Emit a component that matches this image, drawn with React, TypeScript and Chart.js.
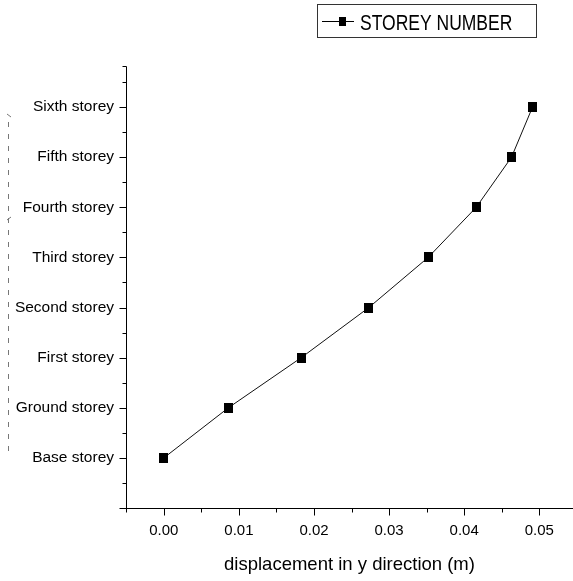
import React, { useEffect, useRef } from "react";
import { Chart, registerables } from "chart.js";

Chart.register(...registerables);

// ---- data ----
const storeyLabels = [
  "Base storey",
  "Ground storey",
  "First storey",
  "Second storey",
  "Third storey",
  "Fourth storey",
  "Fifth storey",
  "Sixth storey",
];
const displacement = [0.0, 0.0086, 0.0183, 0.0273, 0.0352, 0.0416, 0.0463, 0.0491];
const xMajorTicks = [0, 0.01, 0.02, 0.03, 0.04, 0.05];
const seriesName = "STOREY NUMBER";
const xAxisTitle = "displacement in y direction (m)";

const FONT = "'Liberation Sans', Arial, Helvetica, sans-serif";

const isMult = (v: number, step: number) => Math.abs(v / step - Math.round(v / step)) < 1e-6;

const axesPlugin = {
  id: "axesPlugin",
  afterDraw(chart: any) {
    const ctx: CanvasRenderingContext2D = chart.ctx;
    const xs = chart.scales.x;
    const ys = chart.scales.y;
    const { left, right, top, bottom } = chart.chartArea;
    const L = Math.round(left) + 0.5;
    const B = Math.round(bottom) + 0.5;
    const T = Math.round(top) + 0.5;
    ctx.save();
    ctx.strokeStyle = "#000";
    ctx.lineWidth = 1;
    ctx.beginPath();
    // axis lines
    ctx.moveTo(L, T);
    ctx.lineTo(L, B + 4);
    ctx.moveTo(L, B);
    ctx.lineTo(right, B);
    // top end tick
    ctx.moveTo(L, T);
    ctx.lineTo(L - 4, T);
    // x ticks
    xs.ticks.forEach((t: any) => {
      const v = t.value;
      if (!isMult(v, 0.005)) return;
      const px = Math.round(xs.getPixelForValue(v)) + 0.5;
      ctx.moveTo(px, B);
      ctx.lineTo(px, B + (isMult(v, 0.01) ? 7 : 4));
    });
    // y ticks
    ys.ticks.forEach((t: any) => {
      const v = t.value;
      if (!isMult(v, 0.5)) return;
      const py = Math.round(ys.getPixelForValue(v)) + 0.5;
      ctx.moveTo(L, py);
      ctx.lineTo(L - (isMult(v, 1) ? 7 : 4), py);
    });
    ctx.stroke();

    // faint cropped left artefact
    ctx.strokeStyle = "#777";
    ctx.setLineDash([5, 7]);
    ctx.beginPath();
    ctx.moveTo(8.5, 122);
    ctx.lineTo(8.5, 456);
    ctx.stroke();
    ctx.setLineDash([]);
    ctx.beginPath();
    ctx.moveTo(7, 114);
    ctx.lineTo(11, 117);
    ctx.moveTo(7, 220);
    ctx.lineTo(11, 217);
    ctx.stroke();

    // legend
    ctx.strokeStyle = "#333";
    ctx.strokeRect(317.5, 4.5, 219, 33);
    ctx.strokeStyle = "#000";
    ctx.beginPath();
    ctx.moveTo(322, 21.5);
    ctx.lineTo(354, 21.5);
    ctx.stroke();
    ctx.fillStyle = "#000";
    ctx.fillRect(339, 17, 7, 9);
    ctx.font = `17.5px ${FONT}`;
    ctx.textAlign = "left";
    ctx.textBaseline = "alphabetic";
    ctx.translate(360, 29.5);
    ctx.scale(1, 1.25);
    ctx.fillText(seriesName, 0, 0);
    ctx.restore();
  },
};

export default function App() {
  const canvasRef = useRef<HTMLCanvasElement | null>(null);

  useEffect(() => {
    const canvas = canvasRef.current;
    if (!canvas) return;
    const marker = document.createElement("canvas");
    marker.width = 9;
    marker.height = 10;
    const mctx = marker.getContext("2d")!;
    mctx.fillStyle = "#000";
    mctx.fillRect(0, 0, 9, 10);

    const chart = new Chart(canvas, {
      type: "scatter",
      data: {
        datasets: [
          {
            label: seriesName,
            data: displacement.map((x, i) => ({ x, y: i })),
            showLine: true,
            borderColor: "#111",
            borderWidth: 1,
            pointStyle: marker as any,
            pointRadius: 5,
            pointHoverRadius: 5,
            tension: 0,
          },
        ],
      },
      options: {
        animation: false,
        responsive: false,
        devicePixelRatio: 1,
        layout: { autoPadding: false, padding: { top: 66, left: 0, right: 0, bottom: 0 } },
        plugins: { legend: { display: false }, tooltip: { enabled: false } },
        scales: {
          x: {
            type: "linear",
            min: -0.00504,
            max: 0.05449,
            afterFit: (s: any) => {
              s.height = 73;
              s.paddingLeft = 0;
              s.paddingRight = 0;
            },
            afterBuildTicks: (s: any) => {
              const ticks: any[] = [{ value: s.min }];
              xMajorTicks.forEach((v) => {
                ticks.push({ value: v });
                if (v + 0.005 < s.max) ticks.push({ value: v + 0.005 });
              });
              ticks.push({ value: s.max });
              s.ticks = ticks;
            },
            grid: { display: false, drawTicks: false },
            border: { display: false },
            ticks: {
              autoSkip: false,
              maxRotation: 0,
              padding: 14,
              color: "#000",
              font: { family: FONT, size: 15 },
              callback: (v: any) => (isMult(Number(v), 0.01) ? Number(v).toFixed(2) : ""),
            },
            title: {
              display: true,
              text: xAxisTitle,
              color: "#000",
              font: { family: FONT, size: 18.5 },
              padding: { top: 0, bottom: 5 },
            },
          },
          y: {
            type: "linear",
            min: -1,
            max: 7.82,
            afterFit: (s: any) => {
              s.width = 126;
              s.paddingTop = 0;
              s.paddingBottom = 0;
            },
            afterBuildTicks: (s: any) => {
              const ticks: any[] = [];
              for (let i = -1; i < storeyLabels.length; i++) {
                ticks.push({ value: i });
                ticks.push({ value: i + 0.5 });
              }
              ticks.push({ value: s.max });
              s.ticks = ticks;
            },
            grid: { display: false, drawTicks: false },
            border: { display: false },
            ticks: {
              autoSkip: false,
              padding: 12,
              color: "#000",
              font: { family: FONT, size: 15.5 },
              callback: (v: any) => {
                const n = Number(v);
                return isMult(n, 1) && n >= 0 && n < storeyLabels.length ? storeyLabels[Math.round(n)] : "";
              },
            },
          },
        },
      },
      plugins: [axesPlugin],
    });
    return () => chart.destroy();
  }, []);

  return (
    <div style={{ position: "absolute", left: 0, top: 0, width: 573, height: 581, background: "#fff" }}>
      <canvas ref={canvasRef} width={573} height={581} style={{ display: "block" }} />
    </div>
  );
}
